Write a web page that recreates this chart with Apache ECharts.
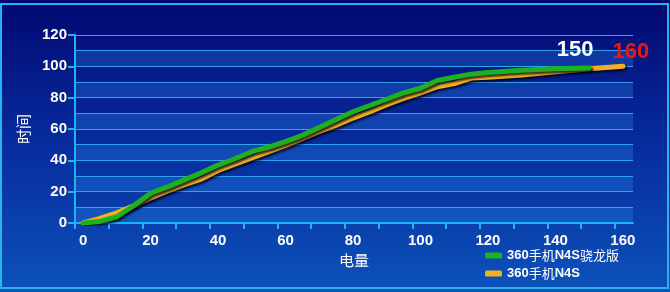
<!DOCTYPE html>
<html>
<head>
<meta charset="utf-8">
<script src="https://cdn.jsdelivr.net/npm/echarts@6/dist/echarts.min.js"></script>
<style>html,body{margin:0;padding:0;}#c{width:670px;height:292px;}</style>
</head>
<body>
<div id="c"></div>
<script>
const seriesNames = ['360手机N4S骁龙版', '360手机N4S'];
const snapX = [0,5,10,15,20,25,30,35,40,45,50,55,60,65,70,75,80,85,90,95,100,105,110,115,120,130,140,150];
const snapY = [0,1,4,11,19,23,27.5,32,37,41,45.5,48.5,52,56,61,66,71,75,79,83,86,91,93,95,96,97.5,98.5,99];
const stdX = [0,5,10,15,20,25,30,35,40,45,50,55,60,65,70,75,80,85,90,95,100,105,110,115,120,130,140,150,160];
const stdY = [0,3,6.5,11,16,20.5,24.5,28,33.5,37.5,41.5,45.5,49.5,54,58.5,62.5,67,71,75.5,79.5,83,87,89,92.5,93,94.5,96.5,98.5,100];
const xTickLabels = [0,20,40,60,80,100,120,140,160];
const xTickMarks = [-2.4,7.6,17.6,27.6,37.6,47.6,57.6,67.6,77.6,87.6,97.6,107.6,117.6,127.6,137.6,147.6,157.6];
const yTickLabels = [0,20,40,60,80,100,120];
const xAxisName = '电量';
const yAxisName = '时间';

function pts(xs, ys, lastLabel) {
  return xs.map((x, i) => {
    const item = { value: [x, ys[i]] };
    if (i === xs.length - 1) item.label = lastLabel;
    return item;
  });
}

const chart = echarts.init(document.getElementById('c'));
const axisColor = '#1cb4f4';
const lineShadow = { shadowColor: 'rgba(0,0,20,0.75)', shadowBlur: 2, shadowOffsetX: 2, shadowOffsetY: 2 };
chart.setOption({
  animation: false,
  backgroundColor: {
    type: 'linear', x: 0, y: 0, x2: 0, y2: 1,
    colorStops: [
      { offset: 0, color: '#020870' },
      { offset: 0.45, color: '#06299a' },
      { offset: 1, color: '#0c52ba' }
    ]
  },
  graphic: [
    { type: 'rect', shape: { x: 1, y: 4, width: 667, height: 284 }, style: { fill: 'none', stroke: '#24b4f0', lineWidth: 2 }, silent: true, z: 100 }
  ],
  grid: { left: 75, right: 37, top: 35, bottom: 69 },
  legend: {
    orient: 'vertical', left: 485, top: 249, padding: 0, itemGap: 5,
    itemWidth: 17, itemHeight: 6, icon: 'roundRect',
    formatter: function (name) {
      return name.replace(/[\x00-\x7f]+|[^\x00-\x7f]+/g, m => /^[\x00-\x7f]/.test(m) ? '{a|' + m + '}' : '{b|' + m + '}');
    },
    textStyle: {
      color: '#fff',
      rich: {
        a: { color: '#fff', fontSize: 13, fontWeight: 'bold', fontFamily: 'Liberation Sans' },
        b: { color: '#fff', fontSize: 13, fontFamily: 'Noto Sans CJK SC' }
      }
    },
    data: seriesNames
  },
  xAxis: {
    type: 'value', min: -2.4, max: 163,
    name: xAxisName, nameLocation: 'middle', nameGap: 30,
    nameTextStyle: { color: '#fff', fontSize: 15, fontFamily: 'Noto Sans CJK SC' },
    axisLine: { show: true, onZero: false, lineStyle: { color: axisColor, width: 2 } },
    axisTick: { show: true, length: 6, customValues: xTickMarks, lineStyle: { color: axisColor, width: 2 } },
    axisLabel: { customValues: xTickLabels, color: '#fff', fontSize: 15, fontWeight: 'bold', fontFamily: 'Liberation Sans', margin: 10 },
    splitLine: { show: false }
  },
  yAxis: [
    {
      type: 'value', min: 0, max: 120, interval: 10,
      axisLine: { show: false, onZero: false },
      axisTick: { show: false },
      axisLabel: { show: false },
      splitLine: { show: true, lineStyle: { color: '#2ea2ea', width: 1 } },
      splitArea: { show: true, areaStyle: { color: ['rgba(40,130,230,0.32)', 'rgba(0,0,0,0)'] } }
    },
    {
      type: 'value', min: 0, max: 120, interval: 20, position: 'left',
      name: yAxisName, nameLocation: 'middle', nameGap: 41, nameRotate: 90,
      nameTextStyle: { color: '#fff', fontSize: 15, fontFamily: 'Noto Sans CJK SC' },
      axisLine: { show: true, onZero: false, lineStyle: { color: axisColor, width: 2 } },
      axisTick: { show: true, length: 7, lineStyle: { color: axisColor, width: 2 } },
      axisLabel: { customValues: yTickLabels, color: '#fff', fontSize: 15, fontWeight: 'bold', fontFamily: 'Liberation Sans', margin: 8 },
      splitLine: { show: false },
      splitArea: { show: false }
    }
  ],
  series: [
    {
      name: seriesNames[0], type: 'line', symbol: 'circle', symbolSize: 0.1, showSymbol: true,
      itemStyle: { color: '#1eb020' },
      lineStyle: Object.assign({ color: '#1eb020', width: 5, cap: 'round', join: 'round' }, lineShadow),
      z: 3,
      data: pts(snapX, snapY, { show: true, position: 'inside', offset: [-14, -18], formatter: p => String(p.value[0]), color: '#ffffff', fontSize: 22, fontWeight: 'bold', fontFamily: 'Liberation Sans' })
    },
    {
      name: seriesNames[1], type: 'line', symbol: 'circle', symbolSize: 0.1, showSymbol: true,
      itemStyle: { color: '#f2b020' },
      lineStyle: Object.assign({ color: '#f2b020', width: 5, cap: 'round', join: 'round' }, lineShadow),
      z: 2,
      data: pts(stdX, stdY, { show: true, position: 'inside', offset: [8, -14], formatter: p => String(p.value[0]), color: '#e81818', fontSize: 22, fontWeight: 'bold', fontFamily: 'Liberation Sans' })
    }
  ]
});
</script>
</body>
</html>
